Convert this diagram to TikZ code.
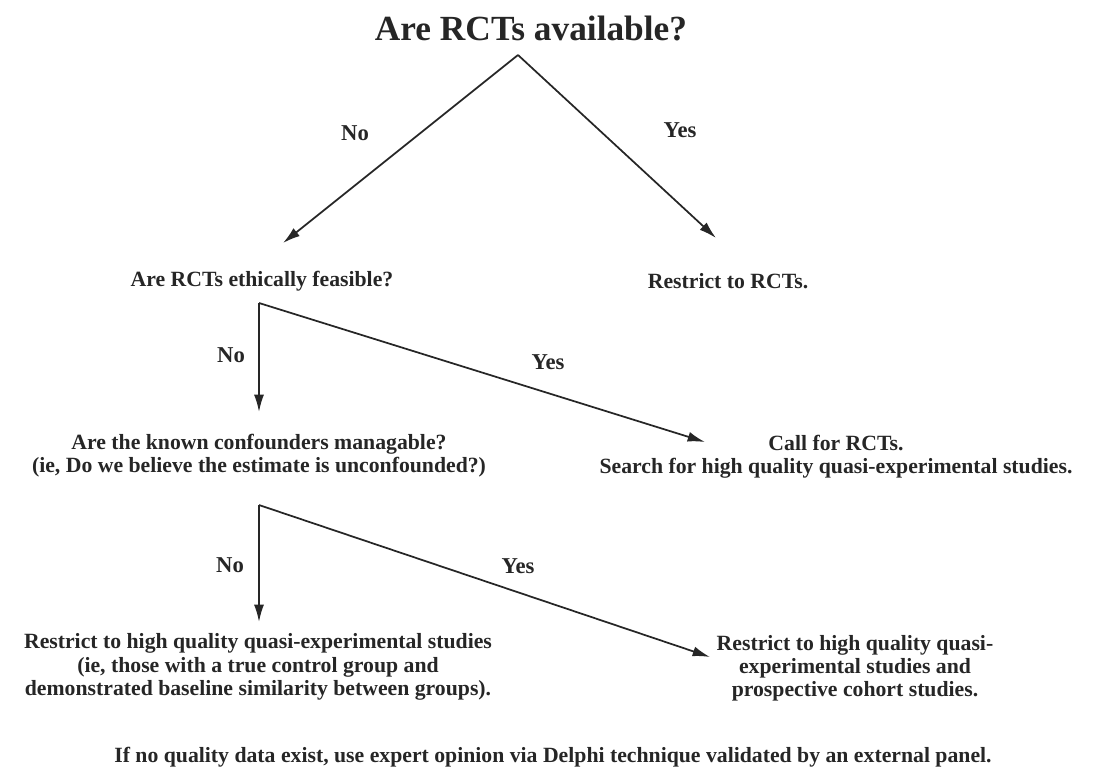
\documentclass[tikz,border=0pt]{standalone}
\usepackage{fontspec}
\setmainfont{Liberation Serif}
\usetikzlibrary{arrows.meta}
\begin{document}
\begin{tikzpicture}[x=0.75pt,y=-0.75pt,
  txt/.style={font=\bfseries\fontsize{16.3}{17.4}\selectfont, align=center, inner sep=0pt, text=black!85},
  ttl/.style={font=\bfseries\fontsize{26.5}{30}\selectfont, inner sep=0pt, text=black!85},
  lbl/.style={font=\bfseries\fontsize{17}{18}\selectfont, inner sep=0pt, text=black!85},
  conn/.style={line width=1.3pt, draw=black!85},
  arr/.style={conn, -{Latex[length=13pt,width=7.5pt]}}]
\useasboundingbox (0,0) rectangle (1107,782);
\node[ttl] (title) at (531,28) {Are RCTs available?};
\coordinate (apex) at (518,55);
\node[txt] (q2) at (262,281) {Are RCTs ethically feasible?};
\node[txt] (r1) at (728,281) {Restrict to RCTs.};
\coordinate (t1) at (283,243);
\coordinate (t2) at (716,238);
\draw[arr] (apex) -- (t1);
\draw[arr] (apex) -- (t2);
\node[lbl] (no1) at (355,133) {No};
\node[lbl] (yes1) at (680,130) {Yes};
% second fork
\coordinate (c2) at (259,303);
\node[txt] (q3) at (259,456) {Are the known confounders managable?\\(ie, Do we believe the estimate is unconfounded?)};
\node[txt] (r2) at (836,457) {Call for RCTs.\\Search for high quality quasi-experimental studies.};
\coordinate (t3) at (259,412);
\coordinate (t4) at (705,442);
\draw[arr] (c2) -- (t3);
\draw[arr] (c2) -- (t4);
\node[lbl] (no2) at (231,355) {No};
\node[lbl] (yes2) at (548,362) {Yes};
% third fork
\coordinate (c3) at (259,505);
\node[txt] (q4) at (258,667) {Restrict to high quality quasi-experimental studies\\(ie, those with a true control group and\\demonstrated baseline similarity between groups).};
\node[txt] (r3) at (855,668) {Restrict to high quality quasi-\\experimental studies and\\prospective cohort studies.};
\coordinate (t5) at (259,622);
\coordinate (t6) at (710,657);
\draw[arr] (c3) -- (t5);
\draw[arr] (c3) -- (t6);
\node[lbl] (no3) at (230,565) {No};
\node[lbl] (yes3) at (518,566) {Yes};
\node[txt] (foot) at (553,757) {If no quality data exist, use expert opinion via Delphi technique validated by an external panel.};
\end{tikzpicture}
\end{document}
